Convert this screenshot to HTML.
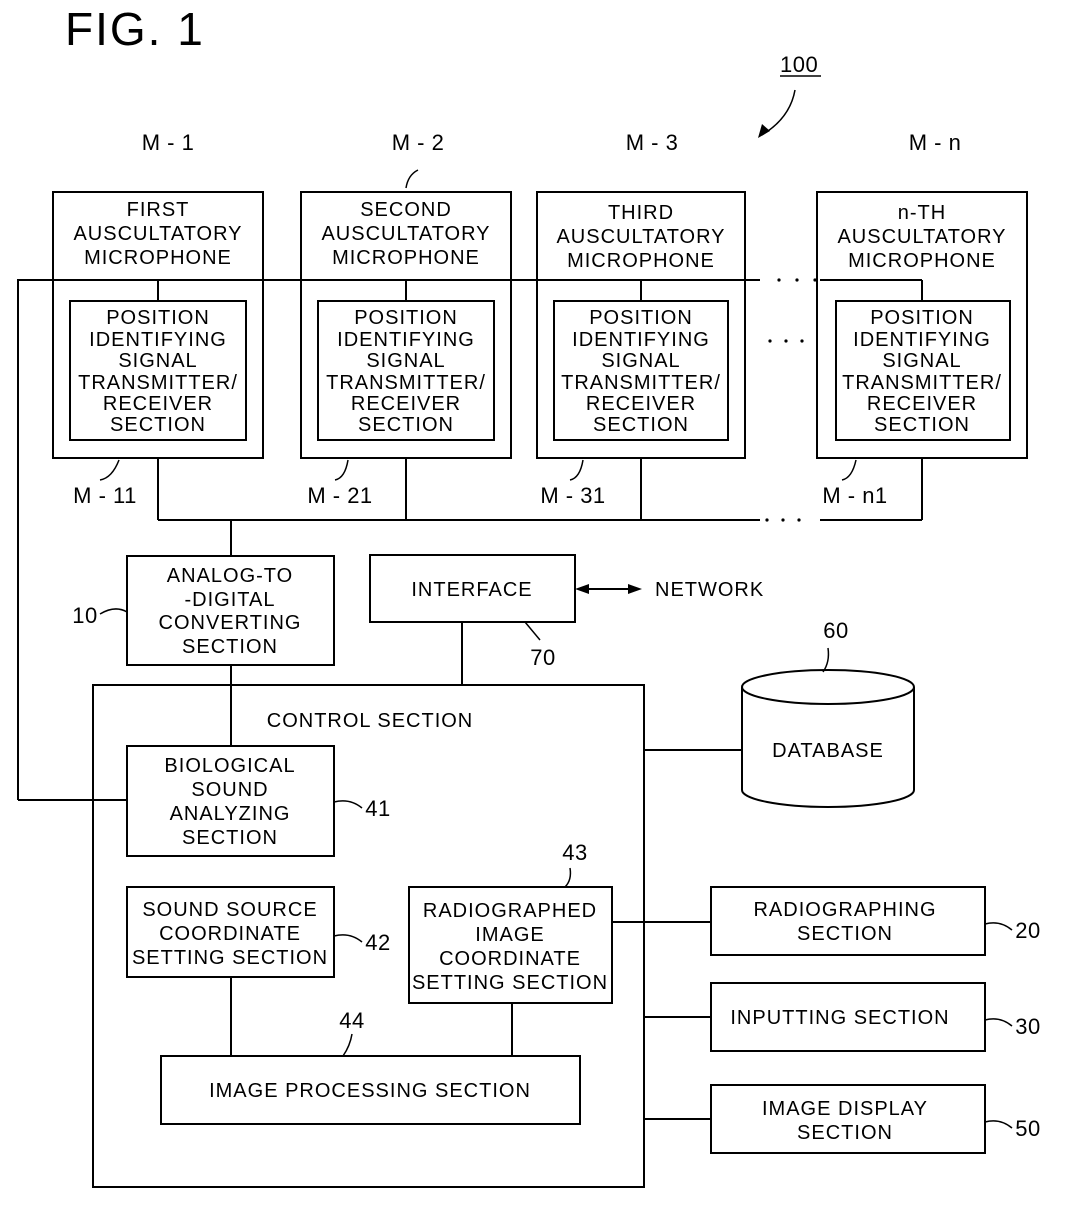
<!DOCTYPE html>
<html><head><meta charset="utf-8"><style>
html,body{margin:0;padding:0;background:#fff;}
svg{display:block;}
text{font-family:"Liberation Sans",Arial,sans-serif;fill:#000;}
.t{font-size:20px;text-anchor:middle;letter-spacing:1px;}
.l{font-size:22px;letter-spacing:0.5px;}
</style></head><body>
<svg width="1072" height="1206" viewBox="0 0 1072 1206" xmlns="http://www.w3.org/2000/svg">
<g fill="none" stroke="#000" stroke-width="2">
<rect x="53" y="192" width="210" height="266"/>
<rect x="301" y="192" width="210" height="266"/>
<rect x="537" y="192" width="208" height="266"/>
<rect x="817" y="192" width="210" height="266"/>
<rect x="70" y="301" width="176" height="139"/>
<rect x="318" y="301" width="176" height="139"/>
<rect x="554" y="301" width="174" height="139"/>
<rect x="836" y="301" width="174" height="139"/>
<polyline points="18,800 18,280 760,280"/>
<line x1="820" y1="280" x2="922" y2="280"/>
<line x1="158" y1="280" x2="158" y2="301"/>
<line x1="406" y1="280" x2="406" y2="301"/>
<line x1="641" y1="280" x2="641" y2="301"/>
<line x1="922" y1="280" x2="922" y2="301"/>
<line x1="18" y1="800" x2="127" y2="800"/>
<line x1="158" y1="458" x2="158" y2="520"/>
<line x1="406" y1="458" x2="406" y2="520"/>
<line x1="641" y1="458" x2="641" y2="520"/>
<line x1="922" y1="458" x2="922" y2="520"/>
<line x1="158" y1="520" x2="760" y2="520"/>
<line x1="820" y1="520" x2="922" y2="520"/>
<line x1="231" y1="520" x2="231" y2="556"/>
<rect x="127" y="556" width="207" height="109"/>
<rect x="370" y="555" width="205" height="67"/>
<line x1="462" y1="622" x2="462" y2="685"/>
<line x1="585" y1="589" x2="632" y2="589"/>
<rect x="93" y="685" width="551" height="502"/>
<line x1="231" y1="665" x2="231" y2="746"/>
<rect x="127" y="746" width="207" height="110"/>
<rect x="127" y="887" width="207" height="90"/>
<rect x="409" y="887" width="203" height="116"/>
<rect x="161" y="1056" width="419" height="68"/>
<line x1="231" y1="977" x2="231" y2="1056"/>
<line x1="512" y1="1003" x2="512" y2="1056"/>
<path d="M742,687 L742,790 A86,17 0 0 0 914,790 L914,687"/>
<ellipse cx="828" cy="687" rx="86" ry="17"/>
<line x1="644" y1="750" x2="742" y2="750"/>
<rect x="711" y="887" width="274" height="68"/>
<rect x="711" y="983" width="274" height="68"/>
<rect x="711" y="1085" width="274" height="68"/>
<line x1="612" y1="922" x2="711" y2="922"/>
<line x1="644" y1="1017" x2="711" y2="1017"/>
<line x1="644" y1="1119" x2="711" y2="1119"/>
<path d="M406,188 Q408,175 418,170" stroke-width="1.5"/>
<path d="M119,460 Q112,478 100,480" stroke-width="1.5"/>
<path d="M348,460 Q345,478 335,480" stroke-width="1.5"/>
<path d="M583,460 Q580,478 570,480" stroke-width="1.5"/>
<path d="M856,460 Q852,478 842,480" stroke-width="1.5"/>
<path d="M100,614 Q115,605 127,612" stroke-width="1.5"/>
<path d="M540,640 Q530,628 525,622" stroke-width="1.5"/>
<path d="M828,648 Q830,662 823,672" stroke-width="1.5"/>
<path d="M362,808 Q350,798 334,802" stroke-width="1.5"/>
<path d="M362,942 Q350,932 334,936" stroke-width="1.5"/>
<path d="M570,868 Q572,880 565,887" stroke-width="1.5"/>
<path d="M352,1034 Q350,1046 343,1056" stroke-width="1.5"/>
<path d="M1012,930 Q1000,920 985,924" stroke-width="1.5"/>
<path d="M1012,1026 Q1000,1016 985,1020" stroke-width="1.5"/>
<path d="M1012,1128 Q1000,1118 985,1122" stroke-width="1.5"/>
<line x1="780" y1="76" x2="821" y2="76" stroke-width="1.5"/>
<path d="M795,90 Q790,118 762,135" stroke-width="1.5"/>
</g>
<polygon points="575,589 589,584 589,594" fill="#000"/>
<polygon points="642,589 628,584 628,594" fill="#000"/>
<polygon points="758,138 762,124 770,131" fill="#000"/>
<g fill="#000">
<circle cx="779" cy="280" r="1.6"/><circle cx="797" cy="280" r="1.6"/><circle cx="815" cy="280" r="1.6"/>
<circle cx="767" cy="520" r="1.6"/><circle cx="783" cy="520" r="1.6"/><circle cx="799" cy="520" r="1.6"/>
<circle cx="770" cy="341" r="1.6"/><circle cx="786" cy="341" r="1.6"/><circle cx="802" cy="341" r="1.6"/>
</g>
<text x="65" y="45" style="font-size:46px;letter-spacing:2px">FIG. 1</text>
<text x="780" y="72" class="l">100</text>
<text x="168" y="150" class="t l">M - 1</text>
<text x="418" y="150" class="t l">M - 2</text>
<text x="652" y="150" class="t l">M - 3</text>
<text x="935" y="150" class="t l">M - n</text>
<text x="158" y="216" class="t">FIRST</text><text x="158" y="240" class="t">AUSCULTATORY</text><text x="158" y="264" class="t">MICROPHONE</text>
<text x="406" y="216" class="t">SECOND</text><text x="406" y="240" class="t">AUSCULTATORY</text><text x="406" y="264" class="t">MICROPHONE</text>
<text x="641" y="219" class="t">THIRD</text><text x="641" y="243" class="t">AUSCULTATORY</text><text x="641" y="267" class="t">MICROPHONE</text>
<text x="922" y="219" class="t">n-TH</text><text x="922" y="243" class="t">AUSCULTATORY</text><text x="922" y="267" class="t">MICROPHONE</text>
<text x="158" y="324" class="t">POSITION</text><text x="158" y="346" class="t">IDENTIFYING</text><text x="158" y="367" class="t">SIGNAL</text><text x="158" y="389" class="t">TRANSMITTER/</text><text x="158" y="410" class="t">RECEIVER</text><text x="158" y="431" class="t">SECTION</text>
<text x="406" y="324" class="t">POSITION</text><text x="406" y="346" class="t">IDENTIFYING</text><text x="406" y="367" class="t">SIGNAL</text><text x="406" y="389" class="t">TRANSMITTER/</text><text x="406" y="410" class="t">RECEIVER</text><text x="406" y="431" class="t">SECTION</text>
<text x="641" y="324" class="t">POSITION</text><text x="641" y="346" class="t">IDENTIFYING</text><text x="641" y="367" class="t">SIGNAL</text><text x="641" y="389" class="t">TRANSMITTER/</text><text x="641" y="410" class="t">RECEIVER</text><text x="641" y="431" class="t">SECTION</text>
<text x="922" y="324" class="t">POSITION</text><text x="922" y="346" class="t">IDENTIFYING</text><text x="922" y="367" class="t">SIGNAL</text><text x="922" y="389" class="t">TRANSMITTER/</text><text x="922" y="410" class="t">RECEIVER</text><text x="922" y="431" class="t">SECTION</text>
<text x="105" y="503" class="t l">M - 11</text>
<text x="340" y="503" class="t l">M - 21</text>
<text x="573" y="503" class="t l">M - 31</text>
<text x="855" y="503" class="t l">M - n1</text>
<text x="230" y="582" class="t">ANALOG-TO</text><text x="230" y="606" class="t">-DIGITAL</text><text x="230" y="629" class="t">CONVERTING</text><text x="230" y="653" class="t">SECTION</text>
<text x="85" y="623" class="t l">10</text>
<text x="472" y="596" class="t">INTERFACE</text>
<text x="655" y="596" style="font-size:20px;letter-spacing:1px">NETWORK</text>
<text x="543" y="665" class="t l">70</text>
<text x="836" y="638" class="t l">60</text>
<text x="828" y="757" class="t">DATABASE</text>
<text x="370" y="727" class="t">CONTROL SECTION</text>
<text x="230" y="772" class="t">BIOLOGICAL</text><text x="230" y="796" class="t">SOUND</text><text x="230" y="820" class="t">ANALYZING</text><text x="230" y="844" class="t">SECTION</text>
<text x="378" y="816" class="t l">41</text>
<text x="230" y="916" class="t">SOUND SOURCE</text><text x="230" y="940" class="t">COORDINATE</text><text x="230" y="964" class="t">SETTING SECTION</text>
<text x="378" y="950" class="t l">42</text>
<text x="575" y="860" class="t l">43</text>
<text x="510" y="917" class="t">RADIOGRAPHED</text><text x="510" y="941" class="t">IMAGE</text><text x="510" y="965" class="t">COORDINATE</text><text x="510" y="989" class="t">SETTING SECTION</text>
<text x="352" y="1028" class="t l">44</text>
<text x="370" y="1097" class="t">IMAGE PROCESSING SECTION</text>
<text x="845" y="916" class="t">RADIOGRAPHING</text><text x="845" y="940" class="t">SECTION</text>
<text x="840" y="1024" class="t">INPUTTING SECTION</text>
<text x="845" y="1115" class="t">IMAGE DISPLAY</text><text x="845" y="1139" class="t">SECTION</text>
<text x="1028" y="938" class="t l">20</text>
<text x="1028" y="1034" class="t l">30</text>
<text x="1028" y="1136" class="t l">50</text>
</svg>
</body></html>
